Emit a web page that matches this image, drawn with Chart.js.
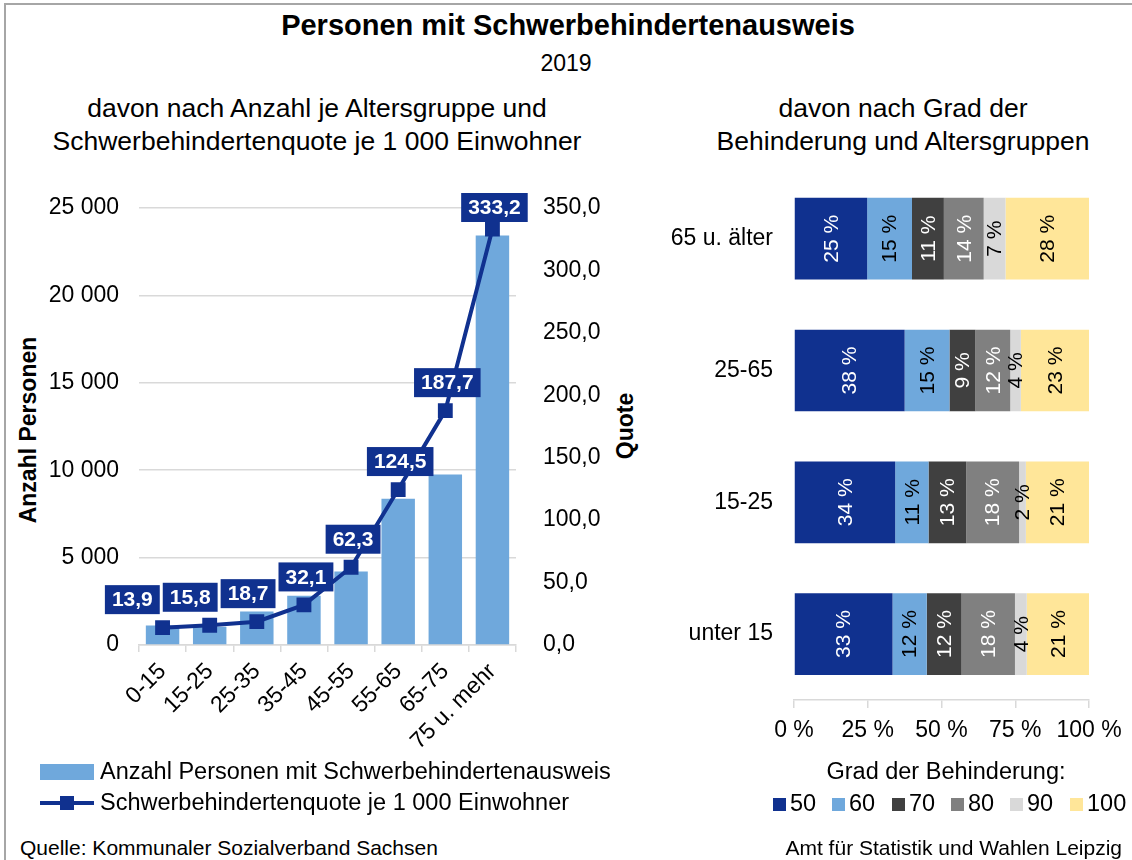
<!DOCTYPE html>
<html lang="de">
<head>
<meta charset="utf-8">
<title>Personen mit Schwerbehindertenausweis 2019</title>
<script src="https://cdn.jsdelivr.net/npm/chart.js@4.4.1/dist/chart.umd.min.js"></script>
<style>
  html, body { margin: 0; padding: 0; background: #fff; }
  body { width: 1132px; height: 860px; position: relative; overflow: hidden;
         font-family: 'Liberation Sans', Arial, sans-serif; color: #000; }
  .frame { position: absolute; left: 4px; top: 3px; width: 1200px; height: 900px;
           border-top: 2px solid #a6a6a6; border-left: 2px solid #a6a6a6; }
  .t { position: absolute; white-space: nowrap; line-height: 1.15; }
  .cc { transform: translate(-50%, -50%); text-align: center; }
  .lc { transform: translateY(-50%); }
  .rc { transform: translate(-100%, -50%); }
  .rot { transform: translate(-50%, -50%) rotate(-90deg); font-weight: bold; font-size: 23px; }
  canvas { position: absolute; }
  .swatch { position: absolute; }
</style>
</head>
<body>
<div class="frame"></div>

<div class="t cc" style="left:568px; top:26px; font-size:29px; font-weight:bold;">Personen mit Schwerbehindertenausweis</div>
<div class="t cc" style="left:566px; top:63px; font-size:23px;">2019</div>

<div class="t cc" style="left:317px; top:125px; font-size:26.5px; line-height:33px;">davon nach Anzahl je Altersgruppe und<br>Schwerbehindertenquote je 1 000 Einwohner</div>
<div class="t cc" style="left:903px; top:125px; font-size:26.5px; line-height:33px;">davon nach Grad der<br>Behinderung und Altersgruppen</div>

<div class="t rot" style="left:28px; top:430px;">Anzahl Personen</div>
<div class="t rot" style="left:625px; top:426px;">Quote</div>

<canvas id="links" width="640" height="600" style="left:0; top:162px;"></canvas>
<canvas id="rechts" width="492" height="622" style="left:640px; top:138px;"></canvas>

<!-- Legende links -->
<div class="swatch" style="left:40px; top:764px; width:54px; height:16px; background:#6fa8dc;"></div>
<div class="t lc" style="left:100px; top:772px; font-size:23.5px;">Anzahl Personen mit Schwerbehindertenausweis</div>
<div class="swatch" style="left:40px; top:801px; width:54px; height:4px; background:#10318f;"></div>
<div class="swatch" style="left:60px; top:796px; width:14px; height:14px; background:#10318f;"></div>
<div class="t lc" style="left:100px; top:803px; font-size:23.5px;">Schwerbehindertenquote je 1 000 Einwohner</div>

<!-- Legende rechts -->
<div class="t cc" style="left:946px; top:772px; font-size:23.5px;">Grad der Behinderung:</div>
<div id="gradLegende"></div>

<div class="t lc" style="left:20px; top:848px; font-size:21px;">Quelle: Kommunaler Sozialverband Sachsen</div>
<div class="t rc" style="left:1122px; top:848px; font-size:21px;">Amt für Statistik und Wahlen Leipzig</div>

<script>
// ==================== DATEN ====================
const altersgruppen = ['0-15', '15-25', '25-35', '35-45', '45-55', '55-65', '65-75', '75 u. mehr'];
const anzahlPersonen = [1110, 1050, 1910, 2820, 4210, 8370, 9750, 23420];
const quote = [13.9, 15.8, 18.7, 32.1, 62.3, 124.5, 187.7, 333.2];
const anzahlTicks = [0, 5000, 10000, 15000, 20000, 25000];
const quoteTicks = [0, 50, 100, 150, 200, 250, 300, 350];

const gruppenRechts = ['65 u. älter', '25-65', '15-25', 'unter 15'];
const grade = ['50', '60', '70', '80', '90', '100'];
const anteil50 = [24.8, 37.5, 34.3, 33.4];
const anteil60 = [15.2, 15.2, 11.3, 11.6];
const anteil70 = [10.8, 8.8, 12.8, 11.8];
const anteil80 = [13.5, 11.8, 17.9, 18.1];
const anteil90 = [7.4, 3.6, 2.3, 4.0];
const anteil100 = [28.3, 23.1, 21.4, 21.1];
const prozentTicks = [0, 25, 50, 75, 100];

// ==================== STIL ====================
const dunkelblau = '#10318f';
const hellblau = '#6fa8dc';
const gitter = '#d9d9d9';
const gradFarben = [dunkelblau, hellblau, '#404040', '#808080', '#d9d9d9', '#ffe699'];
const gradTextFarben = ['#fff', '#000', '#fff', '#fff', '#000', '#000'];
const schrift = "'Liberation Sans', Arial, sans-serif";

Chart.defaults.font.family = schrift;
Chart.defaults.color = '#000';

const tausender = v => String(v).replace(/\B(?=(\d{3})+(?!\d))/g, ' ');
const komma = v => v.toFixed(1).replace('.', ',');

// Datenbeschriftungen der Quote (Kästen, überlappende nach links schieben)
const quoteLabels = {
  id: 'quoteLabels',
  afterDatasetsDraw(chart) {
    const ctx = chart.ctx;
    const meta = chart.getDatasetMeta(0);
    ctx.save();
    ctx.font = 'bold 21px ' + schrift;
    const boxes = meta.data.map((pt, i) => {
      const text = komma(quote[i]);
      const w = ctx.measureText(text).width + 14;
      const h = 29;
      const top = Math.max(pt.y - 28 - h / 2, chart.chartArea.top - 15);
      return { text, w, h, x: pt.x - w / 2 + 2, y: top };
    });
    for (let i = boxes.length - 2; i >= 0; i--) {
      const b = boxes[i], n = boxes[i + 1];
      const vOverlap = b.y < n.y + n.h && b.y + b.h > n.y;
      if (vOverlap && b.x + b.w > n.x - 3) b.x = n.x - 3 - b.w;
    }
    boxes.forEach(b => {
      ctx.fillStyle = dunkelblau;
      ctx.fillRect(b.x, b.y, b.w, b.h);
      ctx.fillStyle = '#fff';
      ctx.textAlign = 'center';
      ctx.textBaseline = 'middle';
      ctx.fillText(b.text, b.x + b.w / 2, b.y + b.h / 2 + 1);
    });
    ctx.restore();
  }
};

// Prozentwerte senkrecht in den Segmenten
const segmentLabels = {
  id: 'segmentLabels',
  afterDatasetsDraw(chart) {
    const ctx = chart.ctx;
    ctx.save();
    ctx.font = '21px ' + schrift;
    ctx.textAlign = 'center';
    ctx.textBaseline = 'middle';
    chart.data.datasets.forEach((ds, di) => {
      chart.getDatasetMeta(di).data.forEach((bar, i) => {
        const cx = (bar.x + bar.base) / 2;
        ctx.save();
        ctx.translate(cx, bar.y);
        ctx.rotate(-Math.PI / 2);
        ctx.fillStyle = gradTextFarben[di];
        ctx.fillText(Math.round(ds.data[i]) + ' %', 0, 1);
        ctx.restore();
      });
    });
    ctx.restore();
  }
};

// ==================== LINKES DIAGRAMM ====================
new Chart(document.getElementById('links'), {
  type: 'bar',
  data: {
    labels: altersgruppen,
    datasets: [
      {
        type: 'line',
        label: 'Schwerbehindertenquote je 1 000 Einwohner',
        data: quote,
        yAxisID: 'yQuote',
        borderColor: dunkelblau,
        backgroundColor: dunkelblau,
        borderWidth: 4,
        pointStyle: 'rect',
        pointRadius: 10.5,
        pointBorderWidth: 0,
        order: 0
      },
      {
        type: 'bar',
        label: 'Anzahl Personen mit Schwerbehindertenausweis',
        data: anzahlPersonen,
        yAxisID: 'yAnzahl',
        backgroundColor: hellblau,
        barPercentage: 0.71,
        categoryPercentage: 1,
        order: 1
      }
    ]
  },
  options: {
    responsive: false,
    animation: false,
    layout: { padding: { top: 46, left: 0, right: 0, bottom: 0 } },
    plugins: { legend: { display: false }, tooltip: { enabled: false } },
    scales: {
      x: {
        offset: true,
        grid: { offset: true, drawOnChartArea: false, drawTicks: true, tickLength: 7, color: gitter, lineWidth: 1.5 },
        border: { color: gitter, width: 1.5 },
        ticks: { font: { size: 23 }, color: '#000', minRotation: 45, maxRotation: 45, padding: 6 },
        afterFit: s => { s.height = 117; }
      },
      yAnzahl: {
        position: 'left',
        min: 0, max: 25000,
        grid: { color: gitter, lineWidth: 1.5, drawTicks: false },
        border: { display: false },
        ticks: { font: { size: 23 }, color: '#000', padding: 20, callback: v => tausender(v) },
        afterBuildTicks: s => { s.ticks = anzahlTicks.map(v => ({ value: v })); },
        afterFit: s => { s.width = 139; }
      },
      yQuote: {
        position: 'right',
        min: 0, max: 350,
        grid: { display: false, drawTicks: false },
        border: { display: false },
        ticks: { font: { size: 23 }, color: '#000', padding: 27, callback: v => komma(v) },
        afterBuildTicks: s => { s.ticks = quoteTicks.map(v => ({ value: v })); },
        afterFit: s => { s.width = 124; }
      }
    }
  },
  plugins: [quoteLabels]
});

// ==================== RECHTES DIAGRAMM ====================
const anteile = [anteil50, anteil60, anteil70, anteil80, anteil90, anteil100];

new Chart(document.getElementById('rechts'), {
  type: 'bar',
  data: {
    labels: gruppenRechts,
    datasets: grade.map((g, i) => ({
      label: g,
      data: anteile[i],
      backgroundColor: gradFarben[i],
      barPercentage: 0.62,
      categoryPercentage: 1
    }))
  },
  options: {
    indexAxis: 'y',
    responsive: false,
    animation: false,
    layout: { padding: { top: 12, right: 43, left: 0, bottom: 0 } },
    plugins: { legend: { display: false }, tooltip: { enabled: false } },
    scales: {
      x: {
        stacked: true,
        min: 0, max: 100,
        grid: { drawOnChartArea: false, drawTicks: true, tickLength: 8, color: gitter, lineWidth: 1.5 },
        border: { color: gitter, width: 1.5 },
        ticks: { font: { size: 23 }, color: '#000', padding: 9, callback: v => v + ' %' },
        afterBuildTicks: s => { s.ticks = prozentTicks.map(v => ({ value: v })); },
        afterFit: s => { s.height = 60; }
      },
      y: {
        stacked: true,
        grid: { display: false, drawTicks: false },
        border: { display: false },
        ticks: { font: { size: 23 }, color: '#000', padding: 21 },
        afterFit: s => { s.width = 154; }
      }
    }
  },
  plugins: [segmentLabels]
});

// Legende für die Grade
const legendX = [773, 832, 892, 951, 1010, 1070];
document.getElementById('gradLegende').innerHTML = grade.map((g, i) => `
  <div class="swatch" style="left:${legendX[i]}px; top:798px; width:13px; height:13px; background:${gradFarben[i]};"></div>
  <div class="t lc" style="left:${legendX[i] + 17}px; top:804px; font-size:23.5px;">${g}</div>`).join('');
</script>
</body>
</html>
